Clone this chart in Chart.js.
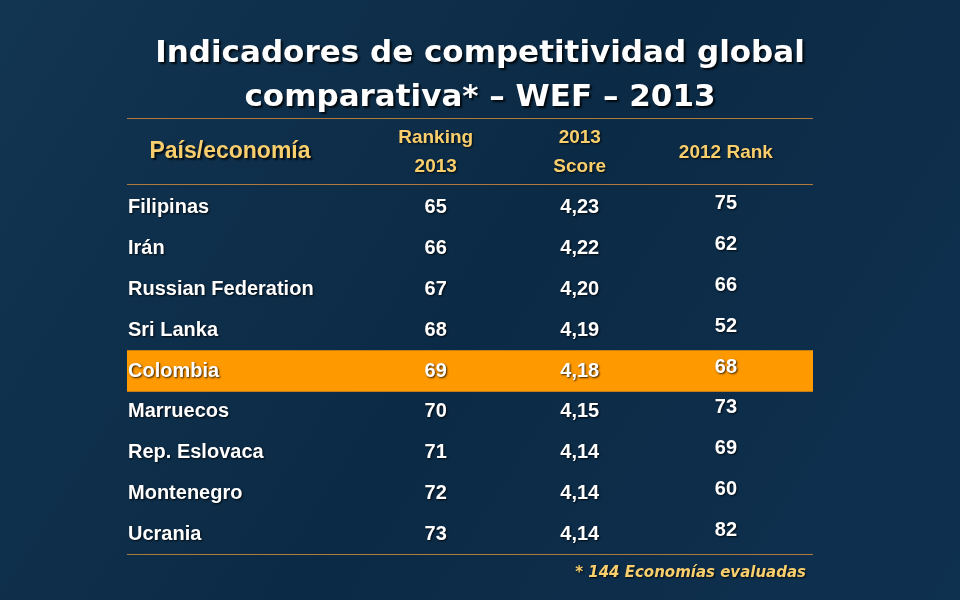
<!DOCTYPE html>
<html><head><meta charset="utf-8">
<script src="https://cdn.jsdelivr.net/npm/chart.js@4"></script>
<style>html,body{margin:0;padding:0;background:#0d2c47}canvas{display:block}</style>
</head><body>
<div style="width:960px;height:600px"><canvas id="tbl"></canvas></div>
<script>
// Table data
const countries = ['Filipinas', 'Irán', 'Russian Federation', 'Sri Lanka', 'Colombia', 'Marruecos', 'Rep. Eslovaca', 'Montenegro', 'Ucrania'];
const rank2013 = [65, 66, 67, 68, 69, 70, 71, 72, 73];
const score2013 = ['4,23', '4,22', '4,20', '4,19', '4,18', '4,15', '4,14', '4,14', '4,14'];
const rank2012 = [75, 62, 66, 52, 68, 73, 69, 60, 82];
const highlight = 'Colombia';

// column positions on the x scale (0..100)
const colX = {ranking: 45, score: 66, prev: 87.3};

const tablePlugin = {
    id: 'tablePlugin',
    beforeDraw(chart) {
        const c = chart.ctx;
        const g = c.createLinearGradient(0, 0, 960, 600);
        g.addColorStop(0, '#123552');
        g.addColorStop(0.5, '#0b2a45');
        g.addColorStop(1, '#0f3150');
        c.save();
        c.fillStyle = g;
        c.fillRect(0, 0, 960, 600);
        c.restore();
    },
    afterDatasetsDraw(chart) {
        const c = chart.ctx;
        const xs = chart.scales.x, ys = chart.scales.y;
        const area = chart.chartArea;
        c.save();
        // title
        c.fillStyle = '#ffffff';
        c.shadowColor = 'rgba(0,0,0,0.8)';
        c.shadowOffsetX = 2; c.shadowOffsetY = 2; c.shadowBlur = 2;
        c.font = 'bold 31px "DejaVu Sans"';
        c.textAlign = 'center'; c.textBaseline = 'middle';
        c.fillText('Indicadores de competitividad global', 480, 54);
        c.fillText('comparativa* – WEF – 2013', 480, 98);
        c.shadowColor = 'transparent';
        // header lines
        c.strokeStyle = '#b07a3a'; c.lineWidth = 1;
        [118, 184, 554].forEach(y => {
            c.beginPath(); c.moveTo(area.left, y + 0.5); c.lineTo(area.right, y + 0.5); c.stroke();
        });
        // header
        c.fillStyle = '#f9cf6e';
        c.shadowColor = 'rgba(0,0,0,0.8)'; c.shadowOffsetX = 2; c.shadowOffsetY = 2;
        c.font = 'bold 23px "Liberation Sans"';
        c.fillText('País/economía', 230, 152);
        c.shadowOffsetX = 1; c.shadowOffsetY = 1;
        c.font = 'bold 19px "Liberation Sans"';
        c.fillText('Ranking', xs.getPixelForValue(colX.ranking), 138);
        c.fillText('2013', xs.getPixelForValue(colX.ranking), 167);
        c.fillText('2013', xs.getPixelForValue(colX.score), 138);
        c.fillText('Score', xs.getPixelForValue(colX.score), 167);
        c.fillText('2012 Rank', xs.getPixelForValue(colX.prev), 153);
        // rows
        c.fillStyle = '#ffffff';
        c.font = 'bold 20px "Liberation Sans Narrow", "Liberation Sans"';
        countries.forEach((name, i) => {
            const y = ys.getPixelForValue(i);
            c.textAlign = 'left';
            c.fillText(name, area.left + 1, y);
            c.textAlign = 'center';
            c.fillText(String(rank2013[i]), xs.getPixelForValue(colX.ranking), y);
            c.fillText(score2013[i], xs.getPixelForValue(colX.score), y);
            c.fillText(String(rank2012[i]), xs.getPixelForValue(colX.prev), y - 4);
        });
        // footnote
        c.fillStyle = '#f9cf6e';
        c.textAlign = 'right';
        c.font = 'bold italic 15px "DejaVu Sans"';
        c.fillText('* 144 Economías evaluadas', 806, 573);
        c.restore();
    }
};

new Chart(document.getElementById('tbl').getContext('2d'), {
    type: 'bar',
    data: {
        labels: countries,
        datasets: [{
            data: countries.map(n => n === highlight ? 100 : null),
            backgroundColor: '#ff9900',
            barPercentage: 1,
            categoryPercentage: 1
        }]
    },
    options: {
        indexAxis: 'y',
        responsive: true,
        maintainAspectRatio: false,
        animation: false,
        layout: {padding: {left: 127, right: 147, top: 187, bottom: 45}},
        plugins: {legend: {display: false}, tooltip: {enabled: false}},
        scales: {
            x: {display: false, min: 0, max: 100},
            y: {display: false, offset: true}
        }
    },
    plugins: [tablePlugin]
});
</script>
</body></html>
